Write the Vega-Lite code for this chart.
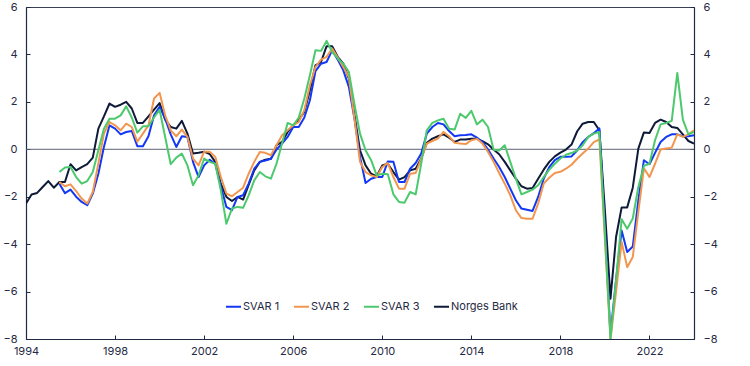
{
  "$schema": "https://vega.github.io/schema/vega-lite/v6.json",
  "width": 668,
  "height": 332,
  "autosize": "none",
  "padding": {"left": 26, "top": 7, "right": 56, "bottom": 27},
  "background": "white",
  "view": {"stroke": "#3b4258", "strokeWidth": 1},
  "config": {
    "font": "Inter",
    "axis": {"labelFont": "Inter", "labelFontSize": 11, "labelColor": "#1f2a44", "domainColor": "#1f2a44", "tickColor": "#1f2a44", "grid": false, "title": null, "tickSize": -4, "labelPadding": 13, "domainWidth": 1.2, "tickWidth": 1, "labelFlush": false, "labelOverlap": false},
    "legend": {"labelFont": "Inter", "labelFontSize": 11, "labelColor": "#1f2a44"}
  },
  "data": {"values": [
    {"t":1994.0,"Norges Bank":-2.29},
    {"t":1994.25,"Norges Bank":-1.91},
    {"t":1994.5,"Norges Bank":-1.84},
    {"t":1994.75,"Norges Bank":-1.59},
    {"t":1995.0,"Norges Bank":-1.34},
    {"t":1995.25,"Norges Bank":-1.62},
    {"t":1995.5,"SVAR 1":-1.45,"SVAR 2":-1.38,"SVAR 3":-0.96,"Norges Bank":-1.38},
    {"t":1995.75,"SVAR 1":-1.85,"SVAR 2":-1.56,"SVAR 3":-0.77,"Norges Bank":-1.38},
    {"t":1996.0,"SVAR 1":-1.7,"SVAR 2":-1.48,"SVAR 3":-0.75,"Norges Bank":-0.63},
    {"t":1996.25,"SVAR 1":-2.0,"SVAR 2":-1.76,"SVAR 3":-1.17,"Norges Bank":-0.89},
    {"t":1996.5,"SVAR 1":-2.22,"SVAR 2":-2.08,"SVAR 3":-1.45,"Norges Bank":-0.75},
    {"t":1996.75,"SVAR 1":-2.36,"SVAR 2":-2.29,"SVAR 3":-1.34,"Norges Bank":-0.63},
    {"t":1997.0,"SVAR 1":-1.87,"SVAR 2":-1.8,"SVAR 3":-0.96,"Norges Bank":-0.35},
    {"t":1997.25,"SVAR 1":-1.03,"SVAR 2":-0.6,"SVAR 3":-0.04,"Norges Bank":0.87},
    {"t":1997.5,"SVAR 1":0.1,"SVAR 2":0.66,"SVAR 3":0.87,"Norges Bank":1.39},
    {"t":1997.75,"SVAR 1":1.01,"SVAR 2":1.15,"SVAR 3":1.29,"Norges Bank":1.93},
    {"t":1998.0,"SVAR 1":0.87,"SVAR 2":1.01,"SVAR 3":1.29,"Norges Bank":1.79},
    {"t":1998.25,"SVAR 1":0.63,"SVAR 2":0.8,"SVAR 3":1.43,"Norges Bank":1.88},
    {"t":1998.5,"SVAR 1":0.73,"SVAR 2":1.08,"SVAR 3":1.81,"Norges Bank":2.0},
    {"t":1998.75,"SVAR 1":0.77,"SVAR 2":0.94,"SVAR 3":1.34,"Norges Bank":1.72},
    {"t":1999.0,"SVAR 1":0.13,"SVAR 2":0.32,"SVAR 3":0.7,"Norges Bank":1.11},
    {"t":1999.25,"SVAR 1":0.13,"SVAR 2":0.66,"SVAR 3":0.97,"Norges Bank":1.11},
    {"t":1999.5,"SVAR 1":0.55,"SVAR 2":1.01,"SVAR 3":0.97,"Norges Bank":1.39},
    {"t":1999.75,"SVAR 1":1.43,"SVAR 2":2.14,"SVAR 3":1.34,"Norges Bank":1.67},
    {"t":2000.0,"SVAR 1":1.79,"SVAR 2":2.38,"SVAR 3":1.67,"Norges Bank":1.95},
    {"t":2000.25,"SVAR 1":1.29,"SVAR 2":1.43,"SVAR 3":0.52,"Norges Bank":1.25},
    {"t":2000.5,"SVAR 1":0.63,"SVAR 2":0.8,"SVAR 3":-0.63,"Norges Bank":0.94},
    {"t":2000.75,"SVAR 1":0.1,"SVAR 2":0.55,"SVAR 3":-0.35,"Norges Bank":0.87},
    {"t":2001.0,"SVAR 1":0.55,"SVAR 2":0.83,"SVAR 3":-0.18,"Norges Bank":1.2},
    {"t":2001.25,"SVAR 1":0.52,"SVAR 2":0.52,"SVAR 3":-0.68,"Norges Bank":0.66},
    {"t":2001.5,"SVAR 1":-0.53,"SVAR 2":-0.39,"SVAR 3":-1.52,"Norges Bank":-0.18},
    {"t":2001.75,"SVAR 1":-1.17,"SVAR 2":-0.68,"SVAR 3":-1.1,"Norges Bank":-0.15},
    {"t":2002.0,"SVAR 1":-0.68,"SVAR 2":-0.1,"SVAR 3":-0.39,"Norges Bank":-0.1},
    {"t":2002.25,"SVAR 1":-0.44,"SVAR 2":-0.1,"SVAR 3":-0.53,"Norges Bank":-0.2},
    {"t":2002.5,"SVAR 1":-0.61,"SVAR 2":-0.32,"SVAR 3":-0.61,"Norges Bank":-0.53},
    {"t":2002.75,"SVAR 1":-1.56,"SVAR 2":-1.17,"SVAR 3":-1.73,"Norges Bank":-1.45},
    {"t":2003.0,"SVAR 1":-2.43,"SVAR 2":-1.87,"SVAR 3":-3.14,"Norges Bank":-2.01},
    {"t":2003.25,"SVAR 1":-2.57,"SVAR 2":-1.98,"SVAR 3":-2.5,"Norges Bank":-2.18},
    {"t":2003.5,"SVAR 1":-2.01,"SVAR 2":-1.8,"SVAR 3":-2.43,"Norges Bank":-2.01},
    {"t":2003.75,"SVAR 1":-1.94,"SVAR 2":-1.62,"SVAR 3":-2.47,"Norges Bank":-2.12},
    {"t":2004.0,"SVAR 1":-1.45,"SVAR 2":-1.03,"SVAR 3":-1.94,"Norges Bank":-1.5},
    {"t":2004.25,"SVAR 1":-0.82,"SVAR 2":-0.53,"SVAR 3":-1.31,"Norges Bank":-0.89},
    {"t":2004.5,"SVAR 1":-0.53,"SVAR 2":-0.11,"SVAR 3":-0.96,"Norges Bank":-0.53},
    {"t":2004.75,"SVAR 1":-0.47,"SVAR 2":-0.15,"SVAR 3":-1.14,"Norges Bank":-0.44},
    {"t":2005.0,"SVAR 1":-0.4,"SVAR 2":-0.25,"SVAR 3":-1.24,"Norges Bank":-0.4},
    {"t":2005.25,"SVAR 1":-0.01,"SVAR 2":0.17,"SVAR 3":-0.61,"Norges Bank":0.17},
    {"t":2005.5,"SVAR 1":0.24,"SVAR 2":0.59,"SVAR 3":0.24,"Norges Bank":0.31},
    {"t":2005.75,"SVAR 1":0.52,"SVAR 2":0.8,"SVAR 3":1.11,"Norges Bank":0.73},
    {"t":2006.0,"SVAR 1":0.94,"SVAR 2":1.01,"SVAR 3":1.01,"Norges Bank":1.01},
    {"t":2006.25,"SVAR 1":0.94,"SVAR 2":1.15,"SVAR 3":1.34,"Norges Bank":1.25},
    {"t":2006.5,"SVAR 1":1.34,"SVAR 2":1.65,"SVAR 3":2.14,"Norges Bank":1.57},
    {"t":2006.75,"SVAR 1":2.07,"SVAR 2":2.7,"SVAR 3":3.12,"Norges Bank":2.49},
    {"t":2007.0,"SVAR 1":3.3,"SVAR 2":3.47,"SVAR 3":4.18,"Norges Bank":3.54},
    {"t":2007.25,"SVAR 1":3.61,"SVAR 2":3.78,"SVAR 3":4.15,"Norges Bank":3.68},
    {"t":2007.5,"SVAR 1":3.68,"SVAR 2":3.9,"SVAR 3":4.57,"Norges Bank":4.35},
    {"t":2007.75,"SVAR 1":4.18,"SVAR 2":4.25,"SVAR 3":4.1,"Norges Bank":4.35},
    {"t":2008.0,"SVAR 1":3.78,"SVAR 2":3.87,"SVAR 3":3.83,"Norges Bank":3.9},
    {"t":2008.25,"SVAR 1":3.33,"SVAR 2":3.47,"SVAR 3":3.61,"Norges Bank":3.61},
    {"t":2008.5,"SVAR 1":2.63,"SVAR 2":3.05,"SVAR 3":3.26,"Norges Bank":2.98},
    {"t":2008.75,"SVAR 1":1.3,"SVAR 2":1.29,"SVAR 3":1.9,"Norges Bank":1.45},
    {"t":2009.0,"SVAR 1":-0.32,"SVAR 2":-0.53,"SVAR 3":0.66,"Norges Bank":-0.04},
    {"t":2009.25,"SVAR 1":-1.42,"SVAR 2":-0.96,"SVAR 3":-0.04,"Norges Bank":-0.68},
    {"t":2009.5,"SVAR 1":-1.24,"SVAR 2":-1.1,"SVAR 3":-0.46,"Norges Bank":-1.03},
    {"t":2009.75,"SVAR 1":-1.17,"SVAR 2":-1.17,"SVAR 3":-1.1,"Norges Bank":-1.14},
    {"t":2010.0,"SVAR 1":-1.17,"SVAR 2":-0.75,"SVAR 3":-1.03,"Norges Bank":-0.68},
    {"t":2010.25,"SVAR 1":-0.51,"SVAR 2":-0.58,"SVAR 3":-1.05,"Norges Bank":-0.61},
    {"t":2010.5,"SVAR 1":-0.53,"SVAR 2":-1.17,"SVAR 3":-1.9,"Norges Bank":-0.96},
    {"t":2010.75,"SVAR 1":-1.38,"SVAR 2":-1.66,"SVAR 3":-2.22,"Norges Bank":-1.28},
    {"t":2011.0,"SVAR 1":-1.38,"SVAR 2":-1.66,"SVAR 3":-2.25,"Norges Bank":-1.17},
    {"t":2011.25,"SVAR 1":-0.82,"SVAR 2":-1.03,"SVAR 3":-1.8,"Norges Bank":-0.89},
    {"t":2011.5,"SVAR 1":-0.58,"SVAR 2":-1.0,"SVAR 3":-1.9,"Norges Bank":-0.82},
    {"t":2011.75,"SVAR 1":-0.18,"SVAR 2":-0.39,"SVAR 3":-0.6,"Norges Bank":-0.39},
    {"t":2012.0,"SVAR 1":0.66,"SVAR 2":0.24,"SVAR 3":0.8,"Norges Bank":0.27},
    {"t":2012.25,"SVAR 1":0.94,"SVAR 2":0.35,"SVAR 3":1.11,"Norges Bank":0.45},
    {"t":2012.5,"SVAR 1":1.11,"SVAR 2":0.45,"SVAR 3":1.22,"Norges Bank":0.55},
    {"t":2012.75,"SVAR 1":1.05,"SVAR 2":0.73,"SVAR 3":1.29,"Norges Bank":0.63},
    {"t":2013.0,"SVAR 1":0.77,"SVAR 2":0.55,"SVAR 3":0.87,"Norges Bank":0.49},
    {"t":2013.25,"SVAR 1":0.55,"SVAR 2":0.27,"SVAR 3":0.83,"Norges Bank":0.31},
    {"t":2013.5,"SVAR 1":0.59,"SVAR 2":0.24,"SVAR 3":1.5,"Norges Bank":0.41},
    {"t":2013.75,"SVAR 1":0.6,"SVAR 2":0.22,"SVAR 3":1.32,"Norges Bank":0.41},
    {"t":2014.0,"SVAR 1":0.63,"SVAR 2":0.38,"SVAR 3":1.62,"Norges Bank":0.44},
    {"t":2014.25,"SVAR 1":0.49,"SVAR 2":0.44,"SVAR 3":1.05,"Norges Bank":0.44},
    {"t":2014.5,"SVAR 1":0.31,"SVAR 2":0.24,"SVAR 3":1.25,"Norges Bank":0.34},
    {"t":2014.75,"SVAR 1":-0.01,"SVAR 2":-0.11,"SVAR 3":0.94,"Norges Bank":0.21},
    {"t":2015.0,"SVAR 1":-0.39,"SVAR 2":-0.53,"SVAR 3":-0.02,"Norges Bank":-0.01},
    {"t":2015.25,"SVAR 1":-0.75,"SVAR 2":-1.0,"SVAR 3":-0.05,"Norges Bank":-0.21},
    {"t":2015.5,"SVAR 1":-1.17,"SVAR 2":-1.45,"SVAR 3":0.17,"Norges Bank":-0.53},
    {"t":2015.75,"SVAR 1":-1.66,"SVAR 2":-1.94,"SVAR 3":-0.53,"Norges Bank":-0.89},
    {"t":2016.0,"SVAR 1":-2.15,"SVAR 2":-2.57,"SVAR 3":-1.24,"Norges Bank":-1.24},
    {"t":2016.25,"SVAR 1":-2.5,"SVAR 2":-2.9,"SVAR 3":-1.9,"Norges Bank":-1.56},
    {"t":2016.5,"SVAR 1":-2.55,"SVAR 2":-2.93,"SVAR 3":-1.8,"Norges Bank":-1.66},
    {"t":2016.75,"SVAR 1":-2.6,"SVAR 2":-2.93,"SVAR 3":-1.7,"Norges Bank":-1.63},
    {"t":2017.0,"SVAR 1":-2.01,"SVAR 2":-2.29,"SVAR 3":-1.52,"Norges Bank":-1.24},
    {"t":2017.25,"SVAR 1":-1.24,"SVAR 2":-1.45,"SVAR 3":-1.17,"Norges Bank":-0.86},
    {"t":2017.5,"SVAR 1":-0.75,"SVAR 2":-1.2,"SVAR 3":-0.86,"Norges Bank":-0.53},
    {"t":2017.75,"SVAR 1":-0.46,"SVAR 2":-1.0,"SVAR 3":-0.61,"Norges Bank":-0.3},
    {"t":2018.0,"SVAR 1":-0.32,"SVAR 2":-0.95,"SVAR 3":-0.39,"Norges Bank":-0.14},
    {"t":2018.25,"SVAR 1":-0.32,"SVAR 2":-0.82,"SVAR 3":-0.23,"Norges Bank":-0.01},
    {"t":2018.5,"SVAR 1":-0.3,"SVAR 2":-0.65,"SVAR 3":-0.16,"Norges Bank":0.2},
    {"t":2018.75,"SVAR 1":-0.05,"SVAR 2":-0.4,"SVAR 3":-0.05,"Norges Bank":0.75},
    {"t":2019.0,"SVAR 1":0.3,"SVAR 2":-0.18,"SVAR 3":0.17,"Norges Bank":1.08},
    {"t":2019.25,"SVAR 1":0.52,"SVAR 2":0.03,"SVAR 3":0.52,"Norges Bank":1.15},
    {"t":2019.5,"SVAR 1":0.68,"SVAR 2":0.3,"SVAR 3":0.66,"Norges Bank":1.15},
    {"t":2019.75,"SVAR 1":0.88,"SVAR 2":0.42,"SVAR 3":0.73,"Norges Bank":0.8},
    {"t":2020.0,"SVAR 1":-3.3,"SVAR 2":-3.8,"SVAR 3":-3.6,"Norges Bank":-2.6},
    {"t":2020.25,"SVAR 1":-7.8,"SVAR 2":-8.0,"SVAR 3":-8.0,"Norges Bank":-6.3},
    {"t":2020.5,"SVAR 1":-5.5,"SVAR 2":-6.0,"SVAR 3":-5.5,"Norges Bank":-3.7},
    {"t":2020.75,"SVAR 1":-3.42,"SVAR 2":-3.91,"SVAR 3":-2.95,"Norges Bank":-2.45},
    {"t":2021.0,"SVAR 1":-4.33,"SVAR 2":-4.97,"SVAR 3":-3.35,"Norges Bank":-2.45},
    {"t":2021.25,"SVAR 1":-4.1,"SVAR 2":-4.54,"SVAR 3":-2.92,"Norges Bank":-1.62},
    {"t":2021.5,"SVAR 1":-2.15,"SVAR 2":-2.64,"SVAR 3":-1.59,"Norges Bank":0.03},
    {"t":2021.75,"SVAR 1":-0.46,"SVAR 2":-0.8,"SVAR 3":-0.7,"Norges Bank":0.71},
    {"t":2022.0,"SVAR 1":-0.63,"SVAR 2":-1.17,"SVAR 3":-0.61,"Norges Bank":0.69},
    {"t":2022.25,"SVAR 1":-0.15,"SVAR 2":-0.61,"SVAR 3":0.38,"Norges Bank":1.11},
    {"t":2022.5,"SVAR 1":0.31,"SVAR 2":-0.01,"SVAR 3":1.05,"Norges Bank":1.25},
    {"t":2022.75,"SVAR 1":0.52,"SVAR 2":0.03,"SVAR 3":1.11,"Norges Bank":1.15},
    {"t":2023.0,"SVAR 1":0.63,"SVAR 2":0.07,"SVAR 3":1.2,"Norges Bank":0.94},
    {"t":2023.25,"SVAR 1":0.63,"SVAR 2":0.63,"SVAR 3":3.22,"Norges Bank":0.9},
    {"t":2023.5,"SVAR 1":0.55,"SVAR 2":0.52,"SVAR 3":1.25,"Norges Bank":0.63},
    {"t":2023.75,"SVAR 1":0.55,"SVAR 2":0.63,"SVAR 3":0.63,"Norges Bank":0.35},
    {"t":2024.0,"SVAR 1":0.59,"SVAR 2":0.8,"SVAR 3":0.73,"Norges Bank":0.24}
  ]},
  "resolve": {"axis": {"y": "independent"}},
  "layer": [
    {
      "data": {"values": [{"zero": 0}]},
      "mark": {"type": "rule", "color": "#5d6374", "strokeWidth": 1},
      "encoding": {
        "y": {"field": "zero", "type": "quantitative", "scale": {"domain": [-8, 6], "nice": false, "zero": false},
              "axis": {"orient": "right", "values": [-8, -6, -4, -2, 0, 2, 4, 6], "labelAlign": "left"}}
      }
    },
    {
      "transform": [
        {"fold": ["SVAR 1", "SVAR 2", "SVAR 3", "Norges Bank"], "as": ["series", "value"]},
        {"filter": "isValid(datum.value)"}
      ],
      "mark": {"type": "line", "strokeWidth": 2, "clip": true, "strokeJoin": "round"},
      "encoding": {
        "x": {"field": "t", "type": "quantitative", "scale": {"domain": [1994, 2024], "nice": false, "zero": false},
              "axis": {"values": [1994, 1998, 2002, 2006, 2010, 2014, 2018, 2022], "format": "d", "labelPadding": 10}},
        "y": {"field": "value", "type": "quantitative", "scale": {"domain": [-8, 6], "nice": false, "zero": false},
              "axis": {"orient": "left", "values": [-8, -6, -4, -2, 0, 2, 4, 6]}},
        "color": {"field": "series", "type": "nominal",
                  "scale": {"domain": ["SVAR 1", "SVAR 2", "SVAR 3", "Norges Bank"], "range": ["#1238f5", "#f2964f", "#4cc96c", "#0e1a38"]},
                  "legend": {"orient": "none", "legendX": 199, "legendY": 291, "direction": "horizontal", "title": null, "symbolType": "stroke", "symbolSize": 225, "symbolStrokeWidth": 2, "labelOffset": 1, "columnPadding": 10}}
      }
    }
  ]
}
